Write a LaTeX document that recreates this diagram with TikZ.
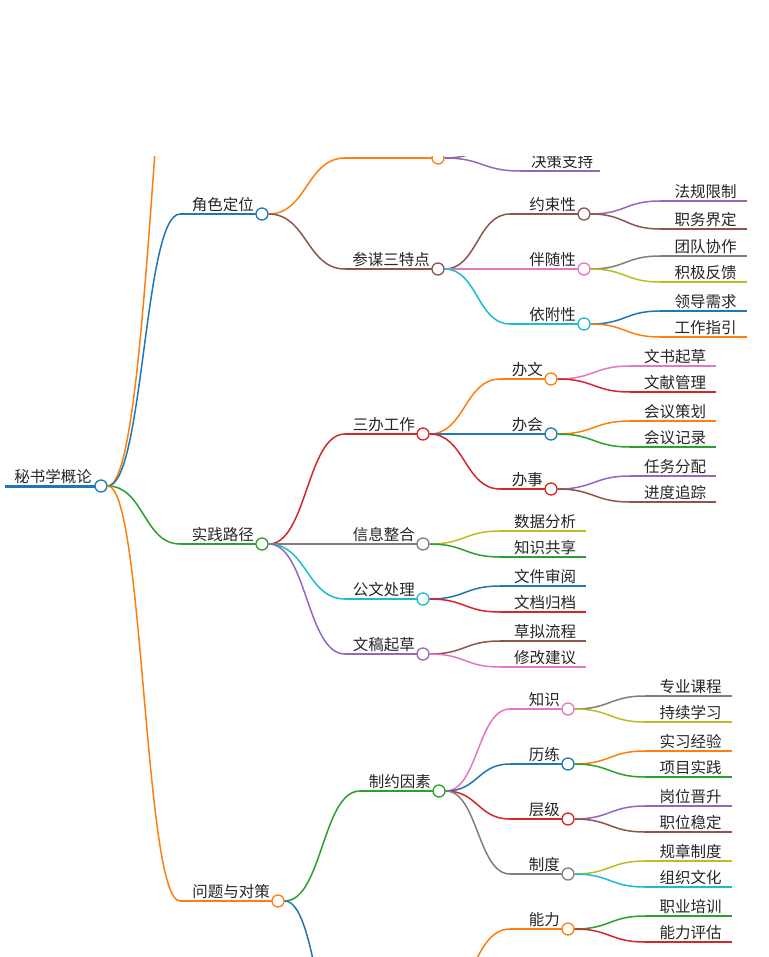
\documentclass[tikz,border=0pt]{standalone}
\usepackage{fontspec}
\setmainfont{Noto Sans CJK SC}
\usetikzlibrary{calc}
\definecolor{cB}{HTML}{1F77B4}\definecolor{cO}{HTML}{FF7F0E}\definecolor{cG}{HTML}{2CA02C}
\definecolor{cR}{HTML}{D62728}\definecolor{cP}{HTML}{9467BD}\definecolor{cN}{HTML}{8C564B}
\definecolor{cK}{HTML}{E377C2}\definecolor{cY}{HTML}{7F7F7F}\definecolor{cL}{HTML}{BCBD22}
\definecolor{cC}{HTML}{17BECF}
\tikzset{circ/.style={circle,fill=white,line width=1.3pt,minimum size=12pt,inner sep=0pt},
lab/.style={font=\fontsize{15.5}{17}\selectfont,inner sep=1pt,text=black!85},
lw/.style={line width=1.5pt}}
\newcommand\MN[6]{\coordinate (#1s) at (#2,#4);\draw[#5,lw] (#1s) -- (#3,#4);
 \node[circ,draw=#5] (#1) at (#3,#4) {};
 \node[lab,anchor=south east] (#1t) at ({#3-7},{#4-1}) {#6};}
\newcommand\LF[6]{\coordinate (#1s) at (#2,#4);\coordinate (#1e) at (#3,#4);\draw[#5,lw] (#1s) -- (#1e);
 \node[lab,anchor=south] (#1t) at ({(#2+#3)/2+2},{#4-1}) {#6};}
\newcommand\ED[3]{\draw[#1,lw] let \p1=(#2.east),\p2=(#3s) in (\p1) .. controls ({(\x1+\x2)/2},\y1) and ({(\x1+\x2)/2},\y2) .. (\p2);}
\begin{document}
\begin{tikzpicture}[x=1pt,y=-1pt]
\useasboundingbox[fill=white] (0,0) rectangle (768,957);
\clip (0,157) rectangle (768,957);
% root
\coordinate (rs) at (5,486);
\draw[cB,line width=3pt] (rs) -- (95,486);
\node[circ,draw=cB] (r) at (101,486) {};
\node[lab,anchor=south east] (rt) at (93,485) {秘书学概论};
% off-top branch
\coordinate (hxs) at (200,-150);
\ED{cO}{r}{hx}
% level 1
\MN{a}{180}{262}{214}{cB}{角色定位}
\MN{b}{180}{262}{544}{cG}{实践路径}
\MN{c}{180}{278}{901}{cO}{问题与对策}
\ED{cB}{r}{a}\ED{cG}{r}{b}\ED{cO}{r}{c}
% 角色定位
\MN{a1}{345}{438}{158}{cO}{}
\MN{a2}{345}{438}{269}{cN}{参谋三特点}
\ED{cO}{a}{a1}\ED{cN}{a}{a2}
\LF{a1x}{520}{600}{140}{cY}{}
\LF{a1a}{520}{600}{171}{cP}{决策支持}
\ED{cY}{a1}{a1x}\ED{cP}{a1}{a1a}
\MN{a21}{510}{584}{214}{cN}{约束性}
\MN{a22}{510}{584}{269}{cK}{伴随性}
\MN{a23}{510}{584}{324}{cC}{依附性}
\ED{cN}{a2}{a21}\ED{cK}{a2}{a22}\ED{cC}{a2}{a23}
\LF{l1}{660}{747}{201}{cP}{法规限制}\ED{cP}{a21}{l1}
\LF{l2}{660}{747}{229}{cN}{职务界定}\ED{cN}{a21}{l2}
\LF{l3}{660}{747}{256}{cY}{团队协作}\ED{cY}{a22}{l3}
\LF{l4}{660}{747}{282}{cL}{积极反馈}\ED{cL}{a22}{l4}
\LF{l5}{660}{747}{311}{cB}{领导需求}\ED{cB}{a23}{l5}
\LF{l6}{660}{747}{337}{cO}{工作指引}\ED{cO}{a23}{l6}
% 实践路径
\MN{b1}{345}{423}{434}{cR}{三办工作}
\MN{b2}{345}{423}{544}{cY}{信息整合}
\MN{b3}{345}{423}{599}{cC}{公文处理}
\MN{b4}{345}{423}{654}{cP}{文稿起草}
\ED{cR}{b}{b1}\ED{cY}{b}{b2}\ED{cC}{b}{b3}\ED{cP}{b}{b4}
\MN{b11}{500}{551}{379}{cO}{办文}
\MN{b12}{500}{551}{434}{cB}{办会}
\MN{b13}{500}{551}{489}{cR}{办事}
\ED{cO}{b1}{b11}\ED{cB}{b1}{b12}\ED{cR}{b1}{b13}
\LF{m1}{630}{716}{366}{cK}{文书起草}\ED{cK}{b11}{m1}
\LF{m2}{630}{716}{392}{cR}{文献管理}\ED{cR}{b11}{m2}
\LF{m3}{630}{716}{421}{cO}{会议策划}\ED{cO}{b12}{m3}
\LF{m4}{630}{716}{447}{cG}{会议记录}\ED{cG}{b12}{m4}
\LF{m5}{630}{716}{476}{cP}{任务分配}\ED{cP}{b13}{m5}
\LF{m6}{630}{716}{502}{cN}{进度追踪}\ED{cN}{b13}{m6}
\LF{n1}{500}{586}{531}{cL}{数据分析}\ED{cL}{b2}{n1}
\LF{n2}{500}{586}{557}{cG}{知识共享}\ED{cG}{b2}{n2}
\LF{n3}{500}{586}{586}{cB}{文件审阅}\ED{cB}{b3}{n3}
\LF{n4}{500}{586}{612}{cR}{文档归档}\ED{cR}{b3}{n4}
\LF{n5}{500}{586}{641}{cN}{草拟流程}\ED{cN}{b4}{n5}
\LF{n6}{500}{586}{667}{cK}{修改建议}\ED{cK}{b4}{n6}
% 问题与对策
\MN{c1}{360}{439}{791}{cG}{制约因素}
\coordinate (c2s) at (360,1120);
\coordinate (c3) at (433,1010);
\ED{cG}{c}{c1}\ED{cB}{c}{c2}
\MN{c11}{510}{568}{709}{cK}{知识}
\MN{c12}{510}{568}{764}{cB}{历练}
\MN{c13}{510}{568}{819}{cR}{层级}
\MN{c14}{510}{568}{874}{cY}{制度}
\MN{c31}{510}{568}{929}{cO}{能力}
\ED{cK}{c1}{c11}\ED{cB}{c1}{c12}\ED{cR}{c1}{c13}\ED{cY}{c1}{c14}\ED{cO}{c3}{c31}
\LF{p1}{645}{732}{696}{cY}{专业课程}\ED{cY}{c11}{p1}
\LF{p2}{645}{732}{722}{cL}{持续学习}\ED{cL}{c11}{p2}
\LF{p3}{645}{732}{751}{cO}{实习经验}\ED{cO}{c12}{p3}
\LF{p4}{645}{732}{777}{cG}{项目实践}\ED{cG}{c12}{p4}
\LF{p5}{645}{732}{806}{cP}{岗位晋升}\ED{cP}{c13}{p5}
\LF{p6}{645}{732}{832}{cN}{职位稳定}\ED{cN}{c13}{p6}
\LF{p7}{645}{732}{861}{cL}{规章制度}\ED{cL}{c14}{p7}
\LF{p8}{645}{732}{887}{cC}{组织文化}\ED{cC}{c14}{p8}
\LF{p9}{645}{732}{916}{cG}{职业培训}\ED{cG}{c31}{p9}
\LF{p10}{645}{732}{942}{cR}{能力评估}\ED{cR}{c31}{p10}
\end{tikzpicture}
\end{document}
